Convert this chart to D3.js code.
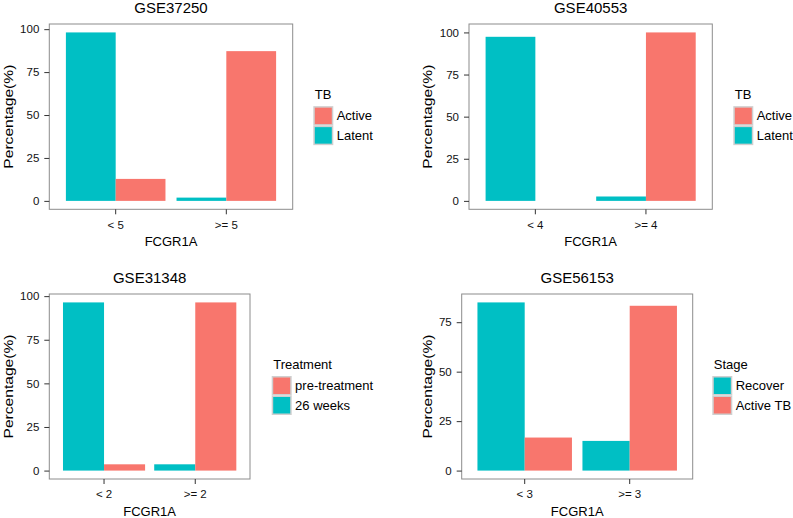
<!DOCTYPE html>
<html>
<head>
<meta charset="utf-8">
<script src="https://cdn.jsdelivr.net/npm/d3@7"></script>
<style>
  body { margin: 0; background: #fff; }
  svg { display: block; font-family: "Liberation Sans", Arial, sans-serif; }
</style>
</head>
<body>
<div id="chart"></div>
<script>
// Data (percentages)
const panelTitles = ["GSE37250", "GSE40553", "GSE31348", "GSE56153"];
const xCategories = [["< 5", ">= 5"], ["< 4", ">= 4"], ["< 2", ">= 2"], ["< 3", ">= 3"]];
const legendTitles = ["TB", "TB", "Treatment", "Stage"];
const legendOrder = [["Active", "Latent"], ["Active", "Latent"], ["pre-treatment", "26 weeks"], ["Recover", "Active TB"]];
// bar order inside each group (left, right)
const barOrder = [["Latent", "Active"], ["Latent", "Active"], ["26 weeks", "pre-treatment"], ["Recover", "Active TB"]];
const yTicks = [[0, 25, 50, 75, 100], [0, 25, 50, 75, 100], [0, 25, 50, 75, 100], [0, 25, 50, 75]];

const gse37250Latent = [98.1, 1.9];
const gse37250Active = [12.8, 87.2];
const gse40553Latent = [97.4, 2.6];
const gse40553Active = [0, 100];
const gse31348Week26 = [96.4, 3.6];
const gse31348Pre = [3.6, 96.4];
const gse56153Recover = [85, 15];
const gse56153ActiveTB = [16.7, 83.3];

const seriesValues = [
  [gse37250Latent, gse37250Active],
  [gse40553Latent, gse40553Active],
  [gse31348Week26, gse31348Pre],
  [gse56153Recover, gse56153ActiveTB]
];

const salmon = "#F8766D", teal = "#00BFC4";
const fillOf = {"Active": salmon, "Latent": teal, "pre-treatment": salmon, "26 weeks": teal, "Recover": teal, "Active TB": salmon};

// panel frames in page pixels
const frames = [
  {left: 49.3, right: 292.7, top: 24, bottom: 209.3, yTitleX: 13, legendX: 313.3},
  {left: 469, right: 712.3, top: 24, bottom: 209.3, yTitleX: 432, legendX: 733.3},
  {left: 49.3, right: 250, top: 294, bottom: 479, yTitleX: 13, legendX: 271.7},
  {left: 461.7, right: 692.7, top: 294, bottom: 479, yTitleX: 432, legendX: 712.3}
];

const svg = d3.select("#chart")
  .append("svg")
    .attr("width", 793)
    .attr("height", 518);

frames.forEach((f, i) => {
  const g = svg.append("g");
  const vals = seriesValues[i];
  const maxVal = d3.max(vals.flat());

  const y = d3.scaleLinear()
      .domain([-0.05 * maxVal, 1.05 * maxVal])
      .range([f.bottom, f.top]);

  // ggplot-like discrete axis: 0.6 expansion each side, dodge width 0.9
  const x = d3.scaleBand()
      .domain(xCategories[i])
      .range([f.left, f.right])
      .paddingInner(0.1)
      .paddingOuter(0.15);

  const xSub = d3.scaleBand()
      .domain(barOrder[i])
      .range([0, x.bandwidth()]);

  // bars
  const rows = [];
  xCategories[i].forEach((c, ci) => {
    barOrder[i].forEach((s, si) => rows.push({cat: c, series: s, value: vals[si][ci]}));
  });

  g.selectAll("rect.bar")
    .data(rows)
    .join("rect")
      .attr("class", "bar")
      .attr("x", d => x(d.cat) + xSub(d.series))
      .attr("width", xSub.bandwidth())
      .attr("y", d => y(d.value))
      .attr("height", d => y(0) - y(d.value))
      .attr("fill", d => fillOf[d.series]);

  // panel border
  g.append("rect")
    .attr("x", f.left)
    .attr("y", f.top)
    .attr("width", f.right - f.left)
    .attr("height", f.bottom - f.top)
    .attr("fill", "none")
    .attr("stroke", "#8c8c8c")
    .attr("stroke-width", 1);

  // y axis
  const yAxis = g.append("g")
    .attr("transform", `translate(${f.left},0)`)
    .call(d3.axisLeft(y).tickValues(yTicks[i]).tickSize(5).tickPadding(5));
  yAxis.select(".domain").remove();
  yAxis.selectAll("line").attr("stroke", "#333");
  yAxis.selectAll("text").attr("font-size", 11.5).attr("fill", "#111")
    .style("font-family", "'Liberation Sans', Arial, sans-serif");

  // x axis
  const xAxis = g.append("g")
    .attr("transform", `translate(0,${f.bottom})`)
    .call(d3.axisBottom(x).tickSize(5).tickPadding(6.2));
  xAxis.select(".domain").remove();
  xAxis.selectAll("line").attr("stroke", "#333");
  xAxis.selectAll("text").attr("font-size", 11.5).attr("fill", "#111")
    .style("font-family", "'Liberation Sans', Arial, sans-serif");

  // title
  g.append("text")
    .attr("x", (f.left + f.right) / 2)
    .attr("y", f.top - 10.7)
    .attr("text-anchor", "middle")
    .attr("font-size", 15)
    .text(panelTitles[i]);

  // axis titles
  g.append("text")
    .attr("x", (f.left + f.right) / 2)
    .attr("y", f.bottom + 36.7)
    .attr("text-anchor", "middle")
    .attr("font-size", 13)
    .text("FCGR1A");

  g.append("text")
    .attr("transform", `translate(${f.yTitleX},${(f.top + f.bottom) / 2}) rotate(-90)`)
    .attr("text-anchor", "middle")
    .attr("font-size", 13)
    .attr("textLength", 104)
    .attr("lengthAdjust", "spacingAndGlyphs")
    .text("Percentage(%)");

  // legend
  const keyH = 19.5, keyW = 20;
  const legendTop = (f.top + f.bottom) / 2 - 10.5;
  const legend = g.append("g")
    .attr("transform", `translate(${f.legendX},${legendTop})`);

  legend.append("text")
    .attr("x", 1.5)
    .attr("y", -7.4)
    .attr("font-size", 13)
    .text(legendTitles[i]);

  const item = legend.selectAll("g.item")
    .data(legendOrder[i])
    .join("g")
      .attr("class", "item")
      .attr("transform", (d, k) => `translate(0,${k * keyH})`);

  item.append("rect")
    .attr("x", 0.75)
    .attr("y", 0.75)
    .attr("width", keyW - 1.5)
    .attr("height", keyH - 1.5)
    .attr("fill", d => fillOf[d])
    .attr("stroke", "#cfcfcf")
    .attr("stroke-width", 1.5);

  item.append("text")
    .attr("x", keyW + 3.4)
    .attr("y", keyH / 2)
    .attr("dy", "0.35em")
    .attr("font-size", 13)
    .text(d => d);
});
</script>
</body>
</html>
